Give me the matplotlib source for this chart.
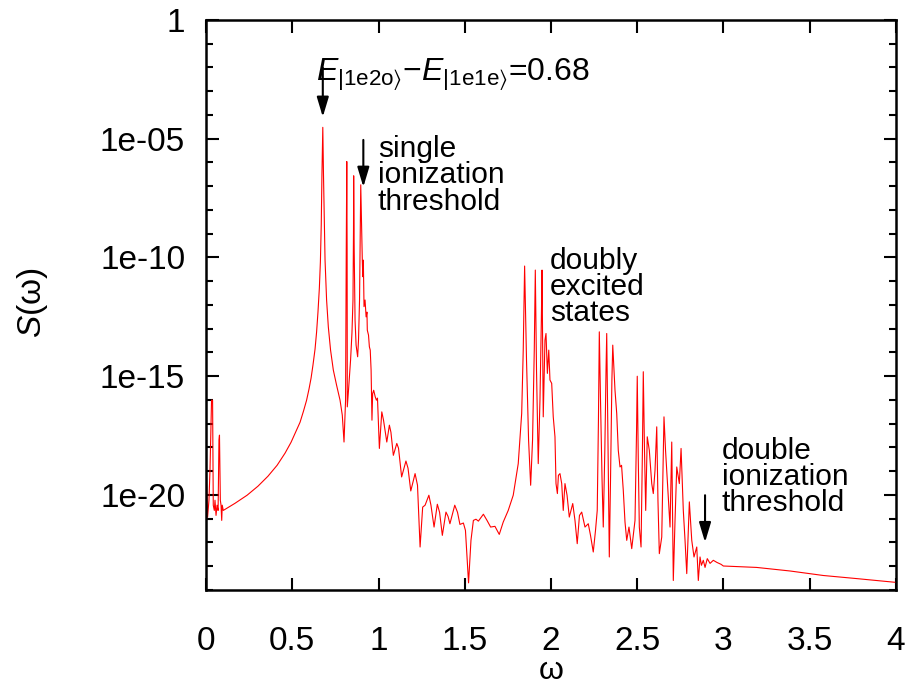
import numpy as np
import matplotlib
matplotlib.use("Agg")
import matplotlib.pyplot as plt
from matplotlib.ticker import FixedLocator, FixedFormatter, NullFormatter

plt.rcParams['font.family'] = ['Liberation Sans', 'DejaVu Sans']
plt.rcParams['mathtext.fontset'] = 'custom'
plt.rcParams['mathtext.rm'] = 'Liberation Sans'
plt.rcParams['mathtext.it'] = 'Liberation Sans:italic'
plt.rcParams['mathtext.fallback'] = 'stixsans'

# ---- data: frequency omega and spectrum S(omega) given as log10 values ----
omega = [0.000, 0.009, 0.017, 0.023, 0.032, 0.038, 0.042, 0.048, 0.052, 0.058,
         0.064, 0.070, 0.075, 0.078, 0.083, 0.087, 0.091, 0.094, 0.100, 0.168,
         0.238, 0.301, 0.359, 0.412, 0.458, 0.493, 0.522, 0.545, 0.565, 0.583,
         0.597, 0.609, 0.620, 0.632, 0.641, 0.649, 0.657, 0.663, 0.668, 0.672,
         0.677,
         0.681, 0.686, 0.690, 0.699, 0.709, 0.722, 0.738, 0.757, 0.777, 0.790,
         0.800, 0.809, 0.813, 0.816, 0.818, 0.819, 0.826, 0.838, 0.846, 0.852,
         0.855, 0.856, 0.859, 0.864, 0.870, 0.879, 0.884, 0.890, 0.894, 0.897,
         0.900, 0.903, 0.906, 0.909, 0.912, 0.916, 0.922, 0.928, 0.933, 0.935,
         0.942, 0.947, 0.952, 0.957, 0.962, 0.966, 0.972, 0.981, 0.988, 0.994,
         1.005, 1.019, 1.029, 1.048, 1.063, 1.072, 1.086, 1.106, 1.116, 1.134,
         1.159, 1.171, 1.187, 1.212, 1.226, 1.241, 1.256, 1.270, 1.292, 1.304,
         1.322, 1.341, 1.354, 1.370, 1.391, 1.403, 1.414, 1.442, 1.458, 1.472,
         1.492, 1.504, 1.522, 1.536, 1.550, 1.565, 1.579, 1.608, 1.629, 1.650,
         1.675, 1.700, 1.723, 1.752, 1.781, 1.810, 1.830, 1.839, 1.847, 1.858,
         1.870, 1.882, 1.893, 1.903, 1.909, 1.916, 1.926, 1.936, 1.944, 1.948,
         1.952, 1.955, 1.965, 1.971, 1.979, 1.987, 1.994, 2.004, 2.013, 2.023,
         2.029, 2.037, 2.043, 2.052, 2.062, 2.071, 2.081, 2.093, 2.106, 2.126,
         2.139, 2.152, 2.165, 2.178, 2.197, 2.216, 2.229, 2.245, 2.258, 2.268,
         2.275, 2.280, 2.287, 2.296, 2.303, 2.312, 2.319, 2.323, 2.329, 2.338,
         2.345, 2.353, 2.358, 2.365, 2.371, 2.381, 2.390, 2.400, 2.409, 2.419,
         2.429, 2.439, 2.452, 2.468, 2.487, 2.496, 2.500, 2.506, 2.512, 2.522,
         2.530, 2.535, 2.542, 2.549, 2.558, 2.570, 2.584, 2.593, 2.603, 2.613,
         2.620, 2.628, 2.642, 2.649, 2.655, 2.664, 2.671, 2.681, 2.690, 2.700,
         2.709, 2.719, 2.729, 2.744, 2.754, 2.767, 2.777, 2.787, 2.802, 2.816,
         2.829, 2.845, 2.854, 2.864, 2.872, 2.883, 2.893, 2.906, 2.922, 2.941,
         2.962, 2.986, 2.999, 3.192, 3.386, 3.579, 3.772, 4.000]

log10_S = [-18.66, -20.94, -20.22, -18.96, -16.01, -16.01, -20.43, -20.65, -20.22, -20.86,
           -20.43, -20.65, -17.69, -17.48, -20.22, -20.43, -21.07, -20.43, -20.65, -20.35,
           -20.01, -19.63, -19.21, -18.75, -18.24, -17.78, -17.31, -16.94, -16.47, -16.01,
           -15.54, -15.08, -14.53, -13.86, -13.14, -12.30, -11.29, -10.19, -8.63, -6.52,
           -4.52,
           -6.52, -8.63, -10.11, -11.79, -12.92, -13.90, -14.74, -15.38, -16.01, -16.64,
           -17.77, -16.01, -9.68, -5.96, -9.68, -16.29, -15.59, -14.32, -13.18, -11.79,
           -8.84, -6.56, -9.68, -12.64, -13.69, -14.18, -13.48, -11.79, -8.84, -6.94,
           -8.00, -9.12, -10.11, -10.81, -10.11, -12.07, -11.79, -12.50, -12.30, -13.06,
           -13.27, -13.76, -13.90, -14.74, -16.85, -15.73, -15.59, -15.87, -16.01, -15.92,
           -18.04, -16.50, -16.85, -17.77, -17.06, -17.36, -18.33, -17.83, -18.03, -19.24,
           -18.57, -18.87, -19.83, -19.10, -19.59, -22.19, -20.51, -20.43, -20.01, -20.43,
           -21.35, -20.39, -20.73, -21.70, -20.72, -20.90, -21.21, -20.43, -20.73, -21.24,
           -21.18, -21.49, -23.70, -21.91, -21.07, -21.02, -21.10, -20.81, -21.07, -21.35,
           -21.32, -21.66, -21.14, -20.65, -20.01, -18.68, -16.57, -13.90, -10.36, -14.32,
           -17.69, -19.59, -17.69, -13.90, -10.53, -14.74, -18.68, -16.01, -12.64, -10.53,
           -14.32, -16.71, -13.48, -13.20, -14.88, -13.90, -15.16, -15.30, -16.71, -17.55,
           -19.52, -19.94, -19.17, -19.10, -19.52, -20.65, -19.52, -20.01, -20.93, -20.36,
           -21.07, -22.05, -20.86, -20.72, -21.35, -21.21, -21.70, -22.40, -21.49, -20.65,
           -16.85, -13.13, -16.01, -19.38, -21.35, -18.12, -14.74, -13.20, -16.85, -22.61,
           -19.38, -15.16, -13.69, -14.74, -15.59, -16.57, -18.12, -18.82, -18.75, -19.80,
           -21.14, -21.91, -21.35, -22.26, -21.07, -17.27, -15.00, -18.54, -21.35, -22.19,
           -18.12, -14.81, -18.12, -20.65, -17.55, -18.12, -19.52, -19.94, -18.96, -17.13,
           -20.22, -22.47, -21.77, -18.96, -16.71, -18.12, -18.96, -20.22, -21.35, -17.77,
           -23.60, -21.07, -18.82, -19.52, -18.04, -20.65, -21.91, -23.31, -20.29, -21.91,
           -22.61, -22.19, -23.60, -22.61, -22.96, -22.75, -23.05, -22.68, -22.88, -22.75,
           -22.84, -22.92, -22.99, -23.05, -23.20, -23.39, -23.52, -23.68]

x_ticks = [0, 0.5, 1, 1.5, 2, 2.5, 3, 3.5, 4]
x_tick_labels = ["0", "0.5", "1", "1.5", "2", "2.5", "3", "3.5", "4"]
y_ticks = [1.0, 1e-5, 1e-10, 1e-15, 1e-20]
y_tick_labels = ["1", "1e-05", "1e-10", "1e-15", "1e-20"]

S = 10.0 ** np.array(log10_S)

fig = plt.figure(figsize=(9.10, 6.89), dpi=100)
ax = fig.add_axes([0.2264, 0.1437, 0.7582, 0.8273])

ax.plot(omega, S, color='red', lw=0.8)

ax.set_yscale('log')
ax.set_xlim(0, 4)
ax.set_ylim(1e-24, 1)

ax.xaxis.set_major_locator(FixedLocator(x_ticks))
ax.xaxis.set_major_formatter(FixedFormatter(x_tick_labels))
ax.yaxis.set_major_locator(FixedLocator(y_ticks))
ax.yaxis.set_major_formatter(FixedFormatter(y_tick_labels))
ax.yaxis.set_minor_locator(FixedLocator([10.0 ** (-k) for k in range(0, 25)]))
ax.yaxis.set_minor_formatter(NullFormatter())

ax.tick_params(which='major', direction='in', length=9, width=1.5,
               top=True, right=True, labelsize=24)
ax.tick_params(which='minor', direction='in', length=5, width=1.5,
               top=False, right=True)
ax.tick_params(axis='x', pad=26)
ax.tick_params(axis='y', pad=15)
for sp in ax.spines.values():
    sp.set_linewidth(1.8)

fig.text(551 / 910, 1 - 686 / 689, 'ω', fontsize=23, ha='center', va='bottom')
fig.text(32 / 910, 1 - 303 / 689, r'$\mathit{S}$(ω)', fontsize=24,
         ha='center', va='center', rotation=90)

arrow_kw = dict(arrowstyle='-|>,head_length=0.6,head_width=0.18',
                color='black', lw=1.5, mutation_scale=20, shrinkA=0, shrinkB=0)

# main transition annotation
ax.annotate('', xy=(0.677, 10 ** -4.08), xytext=(0.677, 10 ** -2.01),
            arrowprops=arrow_kw)
ax.text(0.637, 10 ** -2.55,
        r'$\mathit{E}_{|\mathrm{1e2o}\rangle}$' + '−' +
        r'$\mathit{E}_{|\mathrm{1e1e}\rangle}$' + '=0.68',
        fontsize=23, ha='left', va='baseline')

# single ionization threshold
ax.annotate('', xy=(0.912, 10 ** -7.03), xytext=(0.912, 10 ** -5.05),
            arrowprops=arrow_kw)
ax.text(0.997, 10 ** -4.85, 'single\nionization\nthreshold', fontsize=21.5,
        ha='left', va='top', linespacing=0.92)

# doubly excited states
ax.text(1.994, 10 ** -9.55, 'doubly\nexcited\nstates', fontsize=21.5,
        ha='left', va='top', linespacing=0.92)

# double ionization threshold
ax.annotate('', xy=(2.893, 10 ** -21.99), xytext=(2.893, 10 ** -20.01),
            arrowprops=arrow_kw)
ax.text(2.991, 10 ** -17.55, 'double\nionization\nthreshold', fontsize=21.5,
        ha='left', va='top', linespacing=0.92)

fig.savefig('out.png', dpi=100)
